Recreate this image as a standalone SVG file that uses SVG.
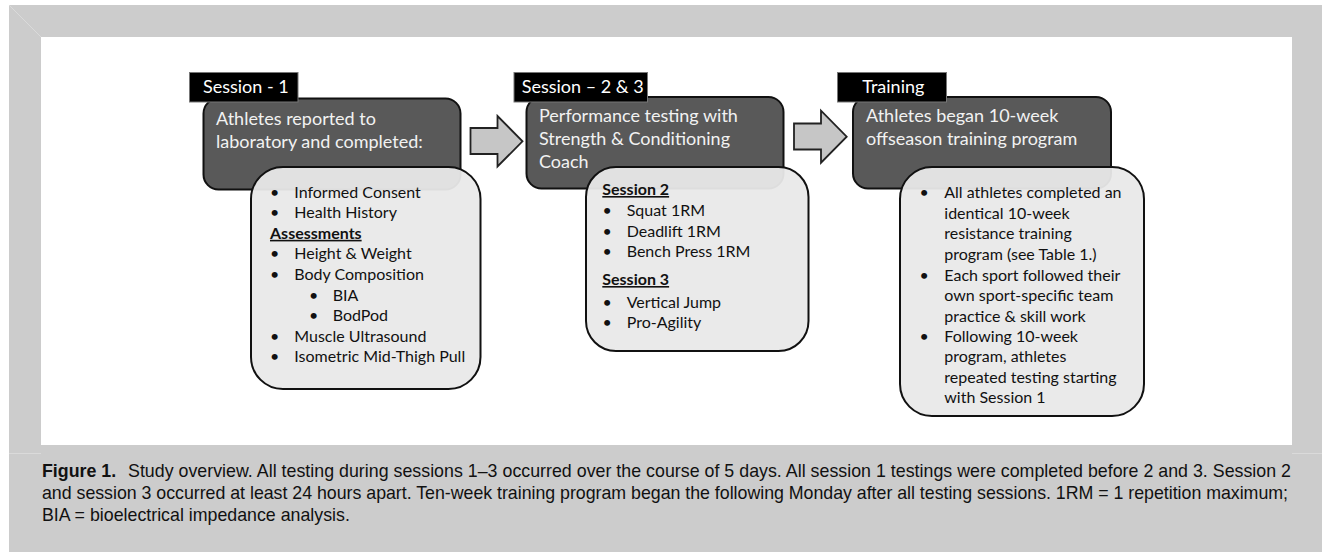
<svg xmlns="http://www.w3.org/2000/svg" width="1322" height="552" viewBox="0 0 1322 552">
<defs>
<style>
.tab{fill:#000;stroke:#777;stroke-width:1}
.tabt{font-family:Lato,"Open Sans",sans-serif;font-size:18px;fill:#fff}
.dark{fill:#595959;stroke:#111;stroke-width:2}
.dt{font-family:Lato,"Open Sans",sans-serif;font-size:18px;fill:#f2f2f2}
.light{fill:#e9e9e9;fill-opacity:0.95;stroke:#111;stroke-width:2}
.lt{font-family:Lato,"Open Sans",sans-serif;font-size:16px;fill:#111}
.hd{font-weight:bold;text-decoration:underline}
.arrow{fill:#c6c6c6;stroke:#222;stroke-width:1.8;stroke-linejoin:miter}
.cap{font-family:"Liberation Sans",Arial,sans-serif;font-size:17.8px;fill:#111}
.bev{stroke:#dadada;stroke-width:1;fill:none}
</style>
</defs>
<rect x="0" y="0" width="1322" height="552" fill="#fff"/>
<rect x="9" y="5" width="1313" height="547" fill="#cccccc"/>
<rect x="41" y="37" width="1251" height="408" fill="#fff"/>
<line class="bev" x1="9" y1="5" x2="41" y2="37"/>
<line class="bev" x1="9" y1="453.5" x2="41" y2="453.5"/>
<line class="bev" x1="1292" y1="453.5" x2="1322" y2="453.5"/>

<g id="connectors">
<path class="arrow" d="M470.5,128 H497.5 V116 L522.5,141.3 L497.5,166.5 V154 H470.5 Z"/>
<path class="arrow" d="M794,123.5 H821 V110.7 L846.7,136.7 L821,162.7 V149.5 H794 Z"/>
</g>

<g id="session1">
<rect class="dark" x="203.5" y="98.5" width="257" height="91" rx="15"/>
<rect class="tab" x="189.5" y="72.5" width="108.5" height="29.5"/>
<text class="tabt" x="203" y="93">Session - 1</text>
<text class="dt" x="216" y="125">Athletes reported to</text>
<text class="dt" x="216" y="147.5">laboratory and completed:</text>
<rect class="light" x="251" y="167" width="229.5" height="222" rx="32"/>
<g class="lt">
<text x="270" y="197.5">•</text><text x="294.3" y="197.5">Informed Consent</text>
<text x="270" y="218.3">•</text><text x="294.3" y="218.3">Health History</text>
<text class="hd" x="270" y="238.8">Assessments</text>
<text x="270" y="259">•</text><text x="294.3" y="259">Height &amp; Weight</text>
<text x="270" y="280">•</text><text x="294.3" y="280">Body Composition</text>
<text x="309" y="300.7">•</text><text x="332.7" y="300.7">BIA</text>
<text x="309" y="321">•</text><text x="332.7" y="321">BodPod</text>
<text x="270" y="341.7">•</text><text x="294.3" y="341.7">Muscle Ultrasound</text>
<text x="270" y="361.7">•</text><text x="294.3" y="361.7">Isometric Mid-Thigh Pull</text>
</g>
</g>

<g id="session23">
<rect class="dark" x="526.5" y="97" width="257" height="91.5" rx="15"/>
<rect class="tab" x="514" y="72.5" width="133.5" height="29.5"/>
<text class="tabt" x="521.7" y="93">Session – 2 &amp; 3</text>
<text class="dt" x="539" y="122.3">Performance testing with</text>
<text class="dt" x="539" y="145">Strength &amp; Conditioning</text>
<text class="dt" x="539" y="168.3">Coach</text>
<rect class="light" x="586" y="167" width="222.5" height="184" rx="30"/>
<g class="lt">
<text class="hd" x="602.3" y="195">Session 2</text>
<text x="602.5" y="216">•</text><text x="626.7" y="216">Squat 1RM</text>
<text x="602.5" y="236.7">•</text><text x="626.7" y="236.7">Deadlift 1RM</text>
<text x="602.5" y="256.7">•</text><text x="626.7" y="256.7">Bench Press 1RM</text>
<text class="hd" x="602.3" y="285">Session 3</text>
<text x="602.5" y="308.3">•</text><text x="626.7" y="308.3">Vertical Jump</text>
<text x="602.5" y="328.3">•</text><text x="626.7" y="328.3">Pro-Agility</text>
</g>
</g>

<g id="training">
<rect class="dark" x="853" y="97" width="258" height="91.5" rx="15"/>
<rect class="tab" x="837.5" y="72.5" width="109" height="29.5"/>
<text class="tabt" x="862.3" y="93">Training</text>
<text class="dt" x="866" y="122.3">Athletes began 10-week</text>
<text class="dt" x="866" y="145">offseason training program</text>
<rect class="light" x="900" y="167" width="244" height="249" rx="32"/>
<g class="lt">
<text x="919.5" y="198.3">•</text><text x="944.3" y="198.3">All athletes completed an</text>
<text x="944.3" y="219">identical 10-week</text>
<text x="944.3" y="239.3">resistance training</text>
<text x="944.3" y="260">program (see Table 1.)</text>
<text x="919.5" y="280.7">•</text><text x="944.3" y="280.7">Each sport followed their</text>
<text x="944.3" y="301">own sport-specific team</text>
<text x="944.3" y="321.7">practice &amp; skill work</text>
<text x="919.5" y="341.7">•</text><text x="944.3" y="341.7">Following 10-week</text>
<text x="944.3" y="362.3">program, athletes</text>
<text x="944.3" y="382.7">repeated testing starting</text>
<text x="944.3" y="403.3">with Session 1</text>
</g>
</g>

<g id="caption">
<text class="cap" x="42" y="476.5" font-weight="bold">Figure 1.</text>
<text class="cap" x="128" y="476.5" textLength="1163" lengthAdjust="spacing">Study overview. All testing during sessions 1–3 occurred over the course of 5 days. All session 1 testings were completed before 2 and 3. Session 2</text>
<text class="cap" x="42" y="498.5" textLength="1246" lengthAdjust="spacing">and session 3 occurred at least 24 hours apart. Ten-week training program began the following Monday after all testing sessions. 1RM = 1 repetition maximum;</text>
<text class="cap" x="42" y="520.5">BIA = bioelectrical impedance analysis.</text>
</g>
</svg>
